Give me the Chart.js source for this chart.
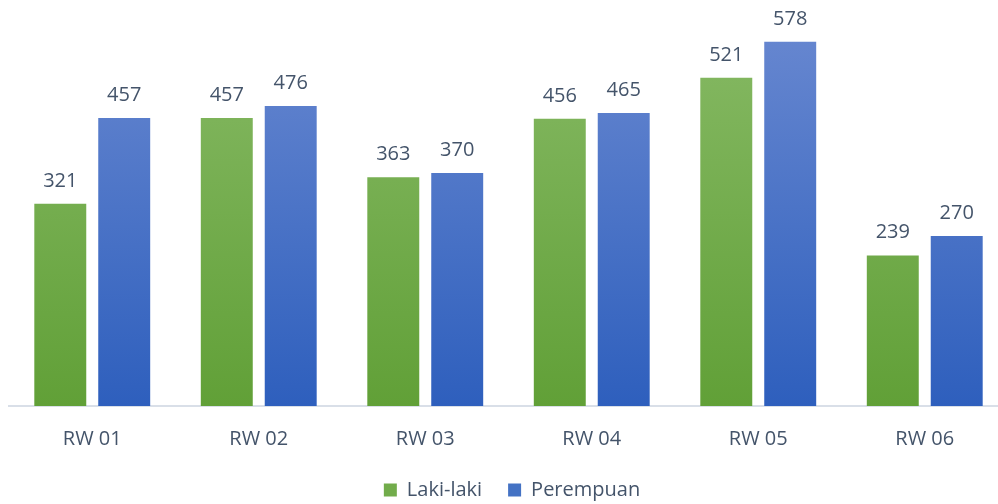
<!DOCTYPE html>
<html>
<head>
<meta charset="utf-8">
<script src="https://cdn.jsdelivr.net/npm/chart.js@4"></script>
<style>
html,body{margin:0;padding:0;background:#fff;overflow:hidden;}
#wrap{width:998px;height:504px;overflow:hidden;position:relative;}
</style>
</head>
<body>
<div id="wrap"><canvas id="c" width="1015" height="504"></canvas></div>
<script>
const categories = ["RW 01","RW 02","RW 03","RW 04","RW 05","RW 06"];
const lakiLaki = [321,457,363,456,521,239];
const perempuan = [457,476,370,465,578,270];
const seriesNames = ["Laki-laki","Perempuan"];

const FONT = "'Open Sans', 'Liberation Sans', sans-serif";
const TXT = "#44546a";

function grad(ctx, top, bottom){
  const c = ctx.chart; const a = c.chartArea;
  if(!a) return bottom;
  const g = c.ctx.createLinearGradient(0, a.top, 0, a.bottom);
  g.addColorStop(0, top); g.addColorStop(1, bottom);
  return g;
}

const labelPlugin = {
  id:'vals',
  afterDatasetsDraw(chart){
    const ctx = chart.ctx;
    ctx.save();
    ctx.font = "20px " + FONT;
    ctx.fillStyle = TXT;
    ctx.textAlign = 'center';
    ctx.textBaseline = 'alphabetic';
    chart.data.datasets.forEach((ds,i)=>{
      chart.getDatasetMeta(i).data.forEach((bar,j)=>{
        ctx.fillText(String(ds.data[j]), bar.x, bar.y - 17);
      });
    });
    ctx.restore();
  }
};

new Chart(document.getElementById('c'), {
  type:'bar',
  data:{
    labels: categories,
    datasets:[
      {label: seriesNames[0], data: lakiLaki,
       backgroundColor: ctx => grad(ctx, '#86b964', '#61a037'),
       categoryPercentage:0.768, barPercentage:0.8125},
      {label: seriesNames[1], data: perempuan,
       backgroundColor: ctx => grad(ctx, '#6787d0', '#2e5fbd'),
       categoryPercentage:0.768, barPercentage:0.8125}
    ]
  },
  options:{
    responsive:false,
    animation:false,
    layout:{padding:{left:9,right:0,top:28,bottom:-6}},
    scales:{
      x:{
        grid:{display:false, drawTicks:false},
        border:{display:true, color:'#d9dfe8', width:2},
        ticks:{color:TXT, font:{family:FONT, size:20}, padding:21},
        afterFit(scale){ scale.height -= 18; }
      },
      y:{
        display:true, position:'right', min:0, max:600,
        grid:{display:false, drawTicks:false},
        border:{display:false},
        ticks:{display:false},
        afterFit(scale){ scale.width = 7; }
      }
    },
    plugins:{
      legend:{
        position:'bottom',
        labels:{boxWidth:13, boxHeight:13, color:TXT, font:{family:FONT, size:20}, padding:26,
          generateLabels(chart){
            const cols=['#72ac4b','#4472c4'];
            return chart.data.datasets.map((d,i)=>({text:d.label, fillStyle:cols[i], strokeStyle:cols[i], lineWidth:0, datasetIndex:i, fontColor:TXT}));
          }
        }
      },
      tooltip:{enabled:false}
    }
  },
  plugins:[labelPlugin]
});
</script>
</body>
</html>
